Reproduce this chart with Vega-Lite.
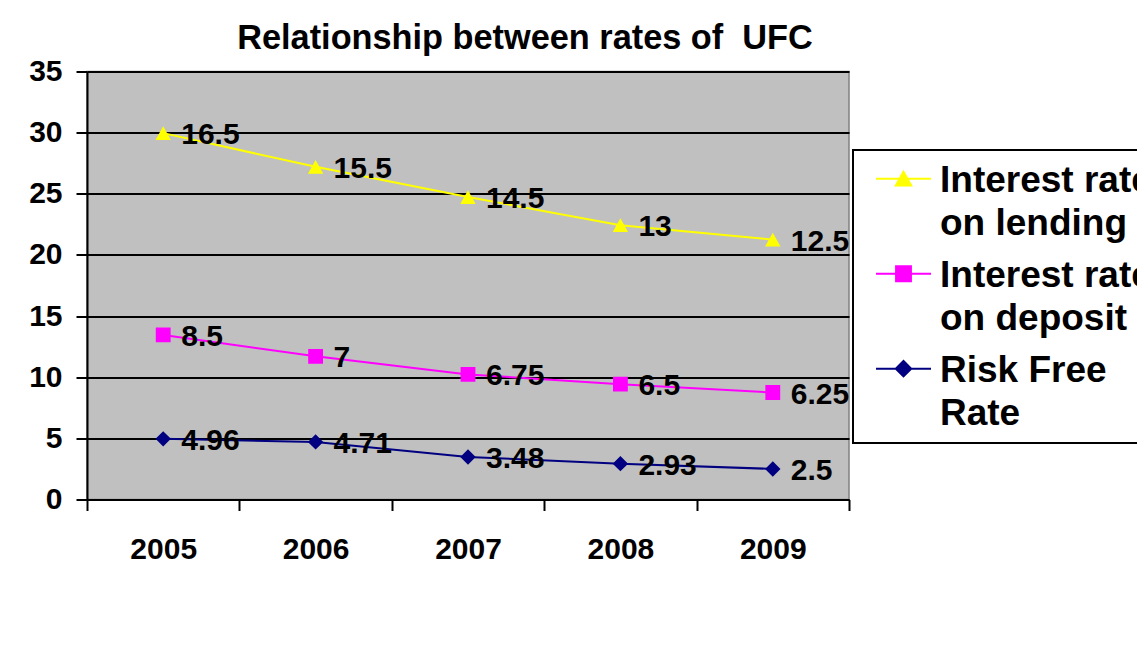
{
  "$schema": "https://vega.github.io/schema/vega-lite/v6.json",
  "autosize": "none",
  "width": 762,
  "height": 428,
  "padding": {"left": 87, "top": 71.5, "right": 288, "bottom": 169.5},
  "background": "white",
  "title": {
    "text": "Relationship between rates of\u00a0 UFC",
    "font": "Liberation Sans",
    "fontSize": 34.3,
    "fontWeight": "bold",
    "color": "black",
    "anchor": "middle",
    "dx": 57,
    "offset": 0
  },
  "config": {
    "view": {"fill": "#C0C0C0", "stroke": "#808080", "strokeWidth": 1.5},
    "axis": {
      "labelFont": "Liberation Sans",
      "labelFontSize": 30,
      "labelFontWeight": "bold",
      "labelColor": "black",
      "domainColor": "black",
      "domainWidth": 2,
      "tickColor": "black",
      "tickWidth": 2,
      "tickSize": 11,
      "title": null
    }
  },
  "data": {
    "values": [
      {"year": 2005, "series": "Risk Free Rate", "rank": 1, "value": 4.96},
      {"year": 2006, "series": "Risk Free Rate", "rank": 1, "value": 4.71},
      {"year": 2007, "series": "Risk Free Rate", "rank": 1, "value": 3.48},
      {"year": 2008, "series": "Risk Free Rate", "rank": 1, "value": 2.93},
      {"year": 2009, "series": "Risk Free Rate", "rank": 1, "value": 2.5},
      {"year": 2005, "series": "Interest rate on deposit", "rank": 2, "value": 8.5},
      {"year": 2006, "series": "Interest rate on deposit", "rank": 2, "value": 7},
      {"year": 2007, "series": "Interest rate on deposit", "rank": 2, "value": 6.75},
      {"year": 2008, "series": "Interest rate on deposit", "rank": 2, "value": 6.5},
      {"year": 2009, "series": "Interest rate on deposit", "rank": 2, "value": 6.25},
      {"year": 2005, "series": "Interest rate on lending", "rank": 3, "value": 16.5},
      {"year": 2006, "series": "Interest rate on lending", "rank": 3, "value": 15.5},
      {"year": 2007, "series": "Interest rate on lending", "rank": 3, "value": 14.5},
      {"year": 2008, "series": "Interest rate on lending", "rank": 3, "value": 13},
      {"year": 2009, "series": "Interest rate on lending", "rank": 3, "value": 12.5}
    ]
  },
  "transform": [
    {"stack": "value", "groupby": ["year"], "sort": [{"field": "rank", "order": "ascending"}], "as": ["y0", "y1"]}
  ],
  "encoding": {
    "x": {
      "field": "year",
      "type": "quantitative",
      "scale": {"domain": [2004.5, 2009.5], "nice": false, "zero": false},
      "axis": {
        "values": [2004.5, 2005, 2005.5, 2006, 2006.5, 2007, 2007.5, 2008, 2008.5, 2009, 2009.5],
        "labelExpr": "datum.value == floor(datum.value) ? '' + datum.value : ''",
        "labelOverlap": false,
        "labelFlush": false,
        "labelBaseline": "top",
        "labelPadding": 24,
        "grid": false,
        "tickOpacity": {"condition": {"test": "datum.value == floor(datum.value)", "value": 0}, "value": 1}
      }
    },
    "y": {
      "field": "y1",
      "type": "quantitative",
      "scale": {"domain": [0, 35], "nice": false},
      "axis": {
        "values": [0, 5, 10, 15, 20, 25, 30, 35],
        "grid": true,
        "gridColor": "black",
        "gridWidth": 2,
        "gridOpacity": 1,
        "labelPadding": 14
      }
    },
    "color": {
      "field": "series",
      "type": "nominal",
      "scale": {
        "domain": ["Interest rate on lending", "Interest rate on deposit", "Risk Free Rate"],
        "range": ["#FFFF00", "#FF00FF", "#000080"]
      },
      "legend": {
        "title": null,
        "orient": "none",
        "legendX": 766,
        "legendY": 78.5,
        "fillColor": "white",
        "strokeColor": "black",
        "padding": 11,
        "symbolOffset": 11,
        "symbolSize": 3025,
        "symbolStrokeWidth": 2,
        "labelOffset": 8,
        "rowPadding": 14,
        "labelFont": "Liberation Sans",
        "labelFontSize": 37,
        "labelFontWeight": "bold",
        "labelColor": "black",
        "labelLimit": 0,
        "labelBaseline": "top",
        "labelExpr": "datum.label == 'Risk Free Rate' ? ['Risk Free', 'Rate'] : [slice(datum.label, 0, 13), slice(datum.label, 14)]",
        "encode": {
          "legend": {
            "update": {
              "strokeWidth": {"value": 2}
            }
          },
          "symbols": {
            "update": {
              "y": {"value": 17.7},
              "stroke": {"signal": "scale('color', datum.value)"},
              "strokeWidth": {"value": 2}
            }
          },
          "labels": {
            "update": {
              "y": {"value": 17.7},
              "dy": {"value": -16},
              "lineHeight": {"value": 43}
            }
          }
        }
      }
    }
  },
  "layer": [
    {
      "mark": {"type": "line", "strokeWidth": 2}
    },
    {
      "mark": {"type": "point", "filled": true, "opacity": 1, "size": 3025},
      "encoding": {
        "shape": {
          "field": "series",
          "type": "nominal",
          "scale": {
            "domain": ["Interest rate on lending", "Interest rate on deposit", "Risk Free Rate"],
            "range": [
              "M-1,0H1M-0.28,0.25L0.28,0.25L0,-0.25Z",
              "M-1,0H1M-0.27,-0.27H0.27V0.27H-0.27Z",
              "M-1,0H1M-0.28,0L0,-0.28L0.28,0L0,0.28Z"
            ]
          }
        }
      }
    },
    {
      "mark": {
        "type": "text",
        "align": "left",
        "baseline": "middle",
        "dx": 18,
        "dy": 2,
        "font": "Liberation Sans",
        "fontSize": 30,
        "fontWeight": "bold",
        "fill": "black"
      },
      "encoding": {
        "text": {"field": "value", "type": "quantitative"},
        "color": {"value": "black"}
      }
    }
  ]
}
